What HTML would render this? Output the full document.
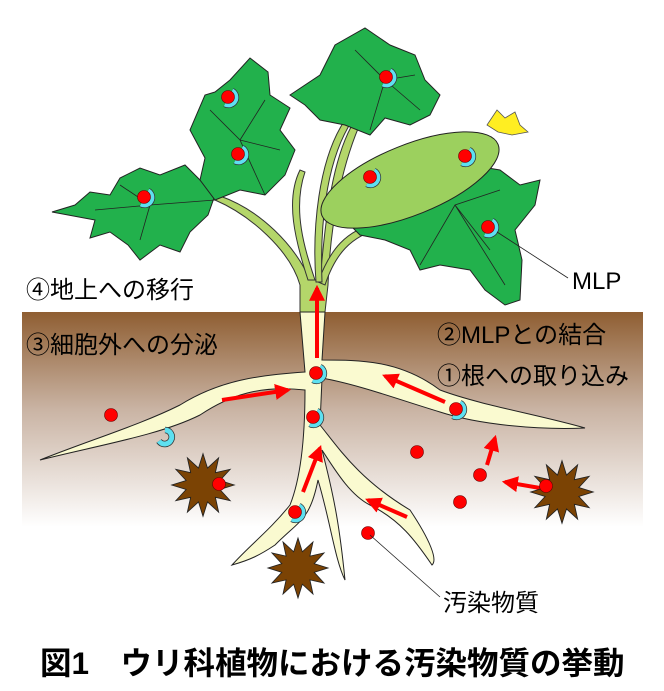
<!DOCTYPE html><html><head><meta charset="utf-8"><style>
body{margin:0;background:#fff}
svg{display:block}
text{font-family:"Liberation Sans","Noto Sans CJK JP",sans-serif;fill:#000}
</style></head><body>
<svg width="664" height="691" viewBox="0 0 664 691" xmlns="http://www.w3.org/2000/svg">
<defs>
<linearGradient id="soil" x1="0" y1="0" x2="0" y2="1">
<stop offset="0" stop-color="#8f5e32"/><stop offset="0.45" stop-color="#c9b3a3"/><stop offset="1" stop-color="#ffffff"/>
</linearGradient>
<g id="m"><path d="M2,-7 A7,7 0 1 1 -5,6" fill="none" stroke="#333" stroke-width="6.5"/><path d="M2,-7 A7,7 0 1 1 -5,6" fill="none" stroke="#5ee0f0" stroke-width="5"/><circle cx="-2" cy="-1" r="6.5" fill="#f00" stroke="#600" stroke-width="0.6"/></g>
<g id="c"><path d="M0,-7 A7,7 0 1 1 -6,4" fill="none" stroke="#333" stroke-width="6.5"/><path d="M0,-7 A7,7 0 1 1 -6,4" fill="none" stroke="#5ee0f0" stroke-width="5"/></g>
<polygon id="s" points="25,0 13.5,3.6 21.7,12.5 9.9,9.9 12.5,21.7 3.6,13.5 0,25 -3.6,13.5 -12.5,21.7 -9.9,9.9 -21.7,12.5 -13.5,3.6 -25,0 -13.5,-3.6 -21.7,-12.5 -9.9,-9.9 -12.5,-21.7 -3.6,-13.5 0,-25 3.6,-13.5 12.5,-21.7 9.9,-9.9 21.7,-12.5 13.5,-3.6" fill="#7b4304" stroke="#222" stroke-width="0.7"/>
<marker id="ar" viewBox="0 0 10 10" refX="8" refY="5" markerWidth="4" markerHeight="4" orient="auto"><path d="M0,0 L10,5 L0,10z" fill="#f00"/></marker>
</defs>
<rect x="22" y="312" width="621" height="215" fill="url(#soil)"/>
<g fill="#b4d66a" stroke="#333" stroke-width="1">
<path d="M300,312 L300,285 C290,250 250,215 215,200 L220,196 C260,210 295,245 310,280 L320,280 C325,230 330,160 355,120 L360,124 C340,170 330,230 328,285 L325,312z"/>
<path d="M308,280 C295,240 285,200 300,170 L305,172 C292,210 305,250 315,280z"/>
<path d="M318,282 C330,250 345,230 380,222 L382,228 C350,236 335,255 325,285z"/>
<path d="M316,282 C312,230 318,160 345,120 L350,124 C325,165 320,230 322,282z"/>
</g>
<g fill="#22b14c" stroke="#222" stroke-width="1">
<path d="M52,212 L75,205 L90,192 L110,195 L120,178 L140,168 L160,175 L185,165 L200,180 L215,195 L208,215 L190,232 L180,252 L160,245 L140,260 L128,245 L110,232 L90,238 L95,220z"/>
<path d="M190,130 L205,95 L215,92 L230,80 L250,58 L268,72 L270,95 L290,108 L280,130 L295,150 L285,175 L265,195 L240,190 L215,200 L200,180 L205,158z"/>
<path d="M290,95 L320,75 L335,45 L365,28 L390,45 L415,55 L425,80 L440,95 L430,115 L410,125 L385,118 L370,135 L345,125 L320,120 L305,105z"/>
<path d="M335,210 L360,195 L390,180 L420,160 L450,150 L470,165 L500,170 L520,185 L540,180 L535,205 L515,230 L522,260 L520,300 L505,305 L485,290 L470,270 L440,265 L420,270 L410,250 L385,240 L360,235z"/>
</g>
<g stroke="#222" stroke-width="0.8" fill="none">
<path d="M215,200 L150,205 L95,210 M150,205 L120,185 M150,205 L140,240"/>
<path d="M265,195 L240,140 L210,110 M240,140 L265,100 M240,140 L280,150"/>
<path d="M370,130 L385,80 L355,50 M385,80 L415,75 M385,80 L420,110"/>
<path d="M420,265 L455,205 L500,190 M455,205 L490,250 M455,205 L505,285"/>
</g>
<ellipse cx="410" cy="180" rx="95" ry="35" transform="rotate(-22 410 180)" fill="#9cd05e" stroke="#222" stroke-width="1"/>
<path d="M487,125 L497,110 L505,118 L515,112 L520,125 L528,132 L512,135 L498,132z" fill="#ffee22" stroke="#555" stroke-width="0.8"/>
<g fill="#fafad0" stroke="#222" stroke-width="1">
<path d="M300,312 L325,312 L322,360 C360,360 400,360 440,390 C480,405 540,415 585,428 C540,430 480,425 440,412 C400,400 360,385 322,378 L320,425 C340,450 360,480 410,510 C430,540 438,560 432,565 C415,540 400,520 370,505 C350,495 335,470 322,450 C335,500 340,530 345,580 C335,560 330,520 318,480 C310,520 300,520 275,545 C260,555 250,560 232,565 C250,545 270,530 290,505 C300,480 305,440 305,390 C260,385 230,395 200,415 C160,435 100,445 40,460 C90,440 140,425 180,405 C220,380 260,375 305,372z"/>
</g>
<g stroke="#f00" stroke-width="4" fill="none" marker-end="url(#ar)">
<line x1="317" y1="358" x2="317" y2="288"/>
<line x1="222" y1="400" x2="288" y2="390"/>
<line x1="445" y1="402" x2="385" y2="376"/>
<line x1="303" y1="492" x2="320" y2="448"/>
<line x1="407" y1="517" x2="368" y2="500"/>
<line x1="487" y1="465" x2="495" y2="438"/>
<line x1="540" y1="488" x2="505" y2="482"/>
</g>
<use href="#s" transform="translate(203,485) scale(1.25)"/><use href="#s" transform="translate(562,492) scale(1.25)"/><use href="#s" transform="translate(298,568) scale(1.2)"/>
<g fill="#f00" stroke="#600" stroke-width="0.6">
<circle cx="111" cy="415" r="6.5"/><circle cx="219" cy="484" r="6.5"/><circle cx="417" cy="452" r="6.5"/><circle cx="480" cy="475" r="6.5"/><circle cx="460" cy="502" r="6.5"/><circle cx="546" cy="486" r="6.5"/><circle cx="368" cy="533" r="6.5"/>
</g>
<use href="#c" x="165" y="437"/>
<use href="#m" x="318" y="374"/><use href="#m" x="315" y="418"/><use href="#m" x="297" y="513"/><use href="#m" x="458" y="410"/>
<use href="#m" x="230" y="98"/><use href="#m" x="240" y="155"/><use href="#m" x="388" y="78"/><use href="#m" x="146" y="198"/><use href="#m" x="372" y="178"/><use href="#m" x="467" y="157"/><use href="#m" x="490" y="228"/>
<g stroke="#222" stroke-width="0.8"><line x1="497" y1="232" x2="568" y2="278"/><line x1="370" y1="535" x2="440" y2="597"/></g>
<g font-size="24">
<text x="26" y="298">④地上への移行</text>
<text x="26" y="353">③細胞外への分泌</text>
<text x="437" y="343">②MLPとの結合</text>
<text x="437" y="384">①根への取り込み</text>
<text x="572" y="289">MLP</text>
<text x="443" y="611">汚染物質</text>
</g>
<text x="40" y="674" font-size="31.5" font-weight="bold">図1　ウリ科植物における汚染物質の挙動</text>
</svg>
</body></html>
